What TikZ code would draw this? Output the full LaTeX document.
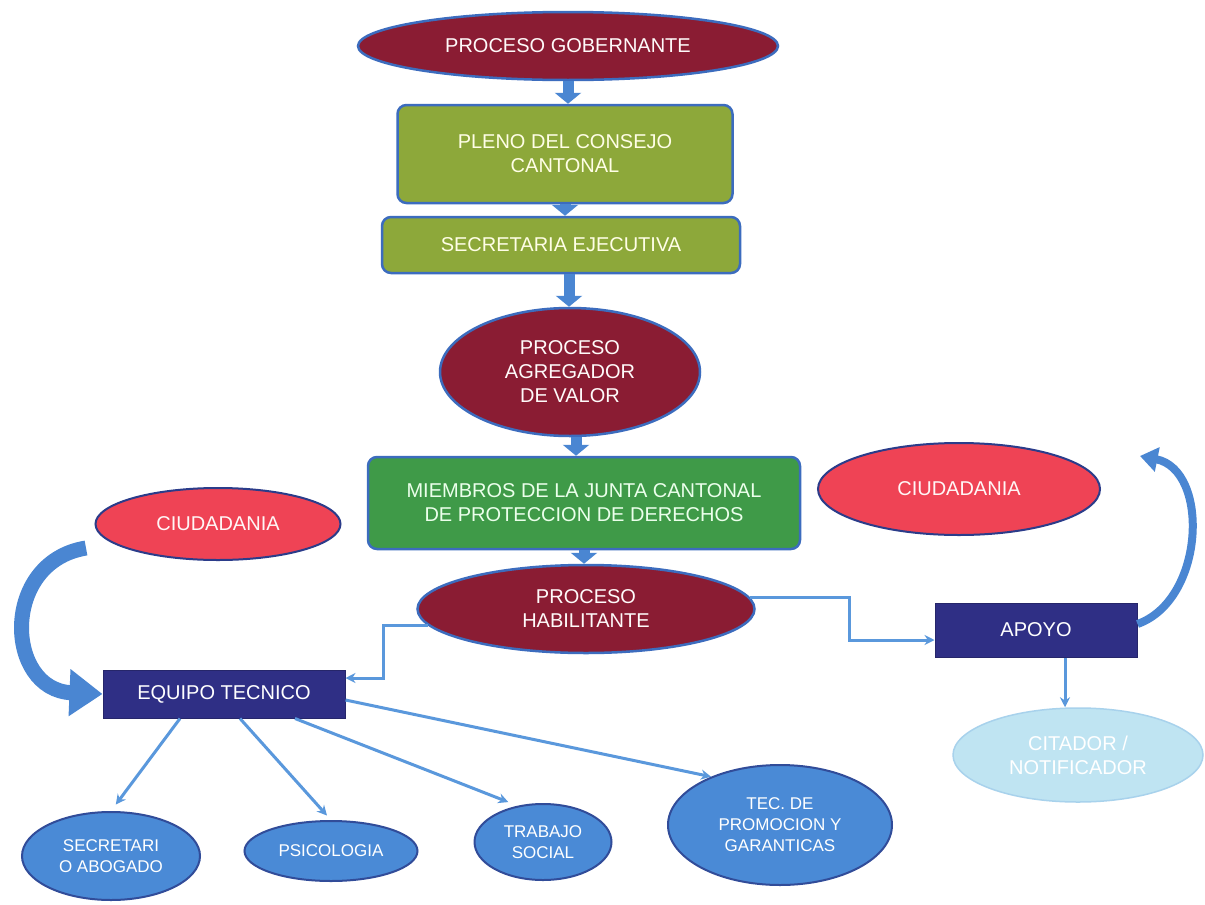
\documentclass[tikz,border=0pt]{standalone}
\usepackage{fontspec}
\setmainfont{Liberation Sans}
\usetikzlibrary{shapes.geometric,arrows.meta}
\definecolor{cMaroon}{HTML}{8A1C33}
\definecolor{cOlive}{HTML}{8DA83A}
\definecolor{cGreen}{HTML}{3F9A48}
\definecolor{cRed}{HTML}{EF4355}
\definecolor{cNavy}{HTML}{2F2F85}
\definecolor{cBlue}{HTML}{4A8AD6}
\definecolor{cPale}{HTML}{BFE4F2}
\definecolor{cEdge}{HTML}{3C6CBE}
\definecolor{cDark}{HTML}{2B3C8A}
\definecolor{cArrow}{HTML}{4A86D2}
\definecolor{cLine}{HTML}{5A98DC}
\begin{document}
\begin{tikzpicture}[x=1pt,y=-1pt,
  nbase/.style={inner sep=1pt, align=center, font=\fontsize{20}{24}\selectfont},
  ellnode/.style={nbase, ellipse, line width=2.5pt},
  boxnode/.style={nbase, rectangle, rounded corners=9pt, line width=2.5pt},
  procell/.style={ellnode, fill=cMaroon, draw=cEdge, text=white!92!pink},
  olivebox/.style={boxnode, fill=cOlive, draw=cEdge, text=white!90!yellow},
  greenbox/.style={boxnode, fill=cGreen, draw=cEdge, text=white!92!green},
  redell/.style={ellnode, fill=cRed, draw=cDark, line width=2pt, text=white!85!pink},
  navybox/.style={nbase, rectangle, fill=cNavy, draw=cNavy!80!black, line width=1pt, text=white},
  blueell/.style={ellnode, fill=cBlue, draw=cDark!80!cBlue, line width=2pt, text=white, font=\fontsize{17}{21}\selectfont},
  paleell/.style={ellnode, fill=cPale, draw=cPale!80!cBlue, line width=1.5pt, text=white},
  blkarrow/.style={draw=cArrow, line width=11pt, -{Triangle[length=11pt,width=26pt]}},
  curvearrow/.style={draw=cArrow, line width=#1, -{Triangle[length=2.2*#1,width=3*#1]}},
  thinarrow/.style={draw=cLine, line width=3pt, -{Stealth[length=10pt,width=10pt]}}
]
\fill[white] (0,0) rectangle (1205,905);
\useasboundingbox (0,0) rectangle (1205,905);

% main column
\node[procell, minimum width=420, minimum height=68] (gob) at (568,46) {PROCESO GOBERNANTE};
\node[olivebox, minimum width=335, minimum height=98] (pleno) at (565,154) {PLENO DEL CONSEJO\\CANTONAL};
\node[olivebox, minimum width=358, minimum height=56] (secej) at (561,245) {SECRETARIA EJECUTIVA};
\node[procell, minimum width=260, minimum height=128] (agr) at (570,372) {PROCESO\\AGREGADOR\\DE VALOR};
\node[greenbox, minimum width=432, minimum height=92] (miem) at (584,503) {MIEMBROS DE LA JUNTA CANTONAL\\DE PROTECCION DE DERECHOS};
\node[procell, minimum width=337, minimum height=88] (hab) at (586,609) {PROCESO\\HABILITANTE};

% sides
\node[redell, minimum width=245, minimum height=72] (ciudL) at (218,524) {CIUDADANIA};
\node[redell, minimum width=282, minimum height=92] (ciudR) at (959,489) {CIUDADANIA};
\node[navybox, minimum width=242, minimum height=48] (equipo) at (224,694) {EQUIPO TECNICO};
\node[navybox, minimum width=202, minimum height=54] (apoyo) at (1036,630) {APOYO};
\node[paleell, minimum width=250, minimum height=94] (cit) at (1078,755) {CITADOR /\\NOTIFICADOR};

% bottom
\node[blueell, minimum width=178, minimum height=88] (sec) at (111,856) {SECRETARI\\O ABOGADO};
\node[blueell, minimum width=173, minimum height=60] (psi) at (331,851) {PSICOLOGIA};
\node[blueell, minimum width=137, minimum height=76] (trab) at (543,842) {TRABAJO\\SOCIAL};
\node[blueell, minimum width=224, minimum height=120] (tec) at (780,825) {TEC. DE\\PROMOCION Y\\GARANTICAS};

% block arrows in main column
\draw[blkarrow] (gob.south) -- (gob.south |- pleno.north);
\draw[blkarrow] (pleno.south) -- (pleno.south |- secej.north);
\draw[blkarrow] ([xshift=8pt]secej.south) -- ([xshift=8pt]secej.south |- agr.north);
\draw[blkarrow] ([xshift=6pt]agr.south) -- ([xshift=6pt]agr.south |- miem.north);
\draw[blkarrow] (miem.south) -- (miem.south |- hab.north);

% curved block arrows
\coordinate (cLs) at (86,548);
\draw[curvearrow=15pt] (cLs) .. controls (0,562) and (5,690) .. (equipo.west);
\coordinate (cRe) at (1140,456);
\draw[curvearrow=8pt] ([yshift=6pt]apoyo.east) .. controls (1205,600) and (1210,470) .. (cRe);

% thin connectors
\draw[thinarrow] (hab.186) -- ++(-45,0) |- ([yshift=16pt]equipo.east);
\draw[thinarrow] (hab.4) -- ++(99,0) |- ([yshift=-10pt]apoyo.west);
\draw[thinarrow] ([xshift=29pt]apoyo.south) -- ([xshift=29pt]apoyo.south |- cit.north);
\draw[thinarrow, shorten >=8pt] ([xshift=-44pt]equipo.south) -- (sec.north);
\draw[thinarrow, shorten >=6pt] ([xshift=16pt]equipo.south) -- (psi.north);
\draw[thinarrow, shorten >=10pt] ([xshift=71pt]equipo.south) -- (trab.125);
\draw[thinarrow] ([yshift=-6pt]equipo.east) -- (tec.145);
\end{tikzpicture}
\end{document}
